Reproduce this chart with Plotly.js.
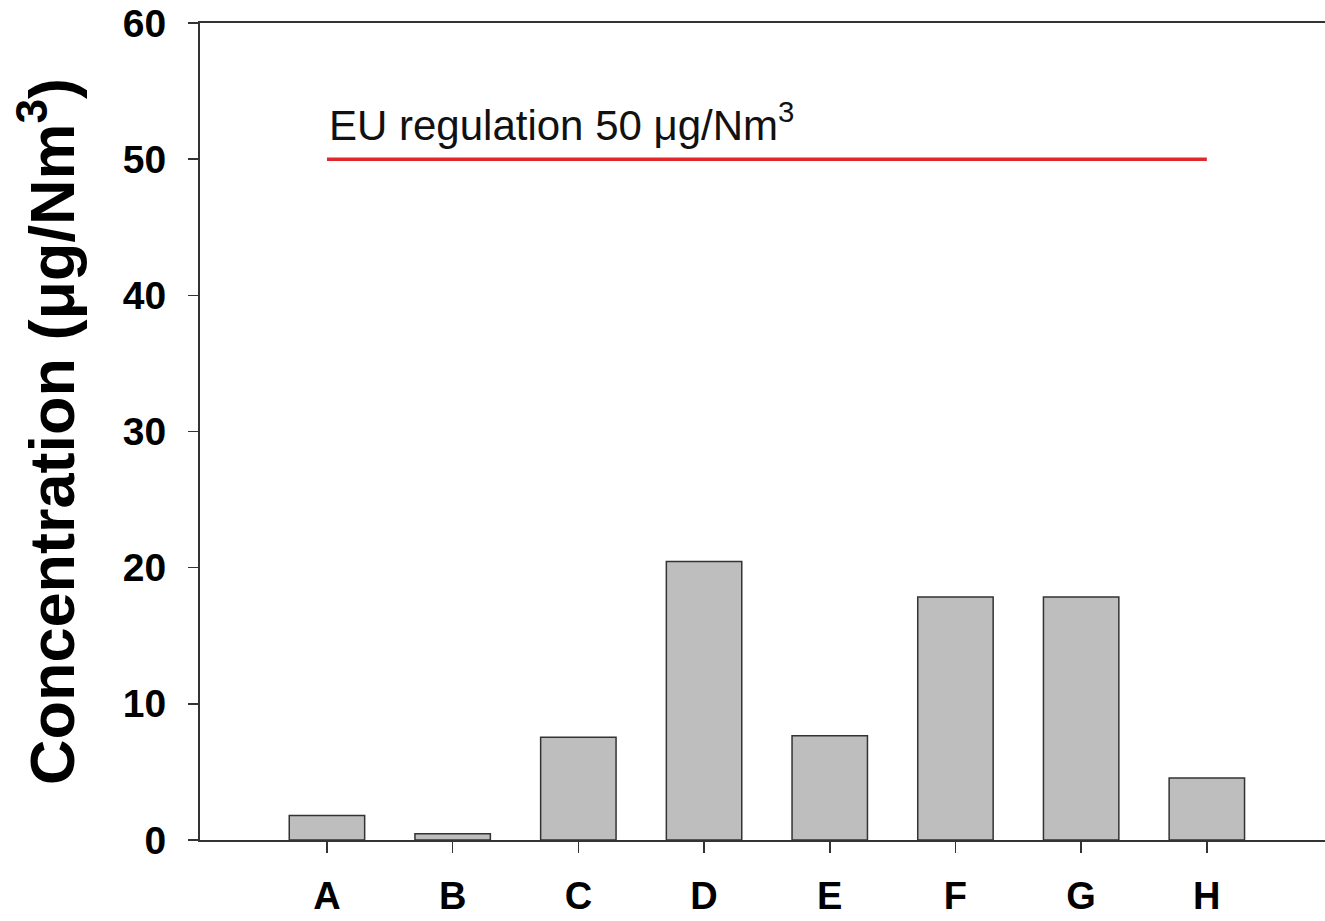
<!DOCTYPE html>
<html>
<head>
<meta charset="utf-8">
<script src="https://cdn.plot.ly/plotly-3.0.1.min.js"></script>
<style>html,body{margin:0;padding:0;background:#fff;}#chart{width:1325px;height:921px;}</style>
</head>
<body>
<div id="chart"></div>
<script>
const categories = ['A', 'B', 'C', 'D', 'E', 'F', 'G', 'H'];
const concentration = [1.8, 0.45, 7.55, 20.45, 7.65, 17.85, 17.85, 4.55];
const limitValue = 50;
const limitSpan = ['A', 'H'];
const limitLabel = 'EU regulation 50 \u03bcg/Nm<sup>3</sup>';
const yTitle = 'Concentration (\u03bcg/Nm<sup>3</sup>)';
const yTicks = [0, 10, 20, 30, 40, 50, 60];

const bars = {
  type: 'bar',
  x: categories,
  y: concentration,
  width: 0.6,
  marker: {color: '#bebebe', line: {color: '#333333', width: 1.5}},
  hoverinfo: 'x+y',
  showlegend: false
};
const limitLine = {
  type: 'scatter',
  mode: 'lines',
  x: limitSpan,
  y: [limitValue, limitValue],
  line: {color: '#e3262c', width: 3.5},
  showlegend: false
};

const layout = {
  width: 1325, height: 921,
  margin: {l: 200, r: 0, t: 23, b: 81},
  paper_bgcolor: '#ffffff', plot_bgcolor: '#ffffff',
  font: {family: 'Liberation Sans, Arial, sans-serif', color: '#000'},
  xaxis: {
    type: 'category',
    range: [-1.01, 7.94],
    showgrid: false, zeroline: false,
    showline: true, linecolor: '#333', linewidth: 2, mirror: true,
    ticks: 'outside', ticklen: 11, tickwidth: 1.5, tickcolor: '#333',
    ticklabelstandoff: 10,
    tickfont: {size: 38, family: 'Liberation Sans, Arial, sans-serif', weight: 'bold'}
  },
  yaxis: {
    range: [0, 60],
    tickvals: yTicks,
    showgrid: false, zeroline: false,
    showline: true, linecolor: '#333', linewidth: 2,
    ticks: 'outside', ticklen: 10, tickwidth: 1.5, tickcolor: '#333',
    ticklabelstandoff: 14,
    tickfont: {size: 39, family: 'Liberation Sans, Arial, sans-serif', weight: 'bold'},
    title: {text: yTitle, standoff: 28, font: {size: 63, family: 'Liberation Sans, Arial, sans-serif', weight: 'bold'}}
  },
  annotations: [{
    x: limitSpan[0], y: limitValue, xref: 'x', yref: 'y',
    text: limitLabel, showarrow: false,
    xanchor: 'left', yanchor: 'bottom', xshift: 0, yshift: 8,
    font: {size: 42, family: 'Liberation Sans, Arial, sans-serif', color: '#111'}
  }]
};

Plotly.newPlot('chart', [bars, limitLine], layout, {displayModeBar: false, staticPlot: true});
</script>
</body>
</html>
